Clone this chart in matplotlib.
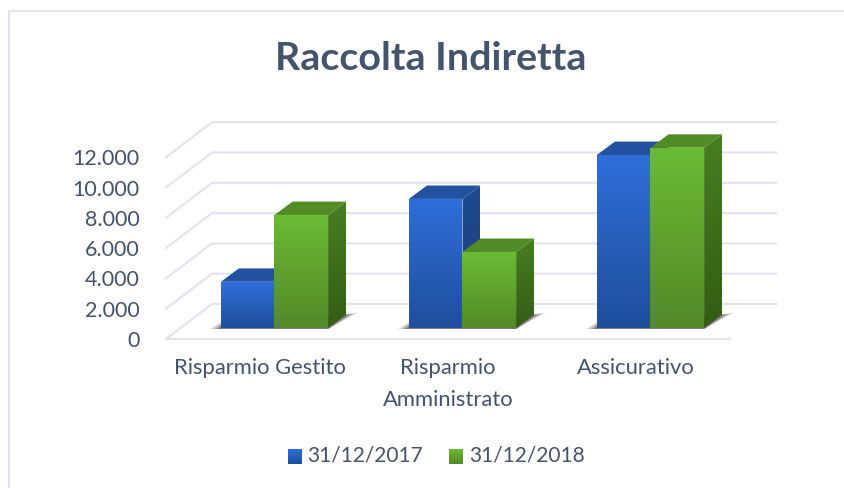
import numpy as np
import matplotlib
matplotlib.use('Agg')
import matplotlib.pyplot as plt
from matplotlib.colors import LinearSegmentedColormap
from matplotlib.patches import Polygon

categories = ['Risparmio Gestito', 'Risparmio\nAmministrato', 'Assicurativo']
values_2017 = [3050, 8520, 11420]
values_2018 = [7460, 5020, 11900]
y_ticks = [0, 2000, 4000, 6000, 8000, 10000, 12000]
y_labels = ['0', '2.000', '4.000', '6.000', '8.000', '10.000', '12.000']
series_names = ['31/12/2017', '31/12/2018']

W, H = 845, 488
TEXT = '#44546A'
GRID = '#E0E3EC'

plt.rcParams['font.family'] = ['Lato', 'DejaVu Sans']

# fill colours: front top/bottom, side top/bottom, roof
blue = ['#2E6FDB', '#1F4E9C', '#1F4A90', '#1A3F7E', '#21519F']
green = ['#6BBB33', '#528A28', '#467F22', '#345C14', '#528C26']

fig = plt.figure(figsize=(W / 100, H / 100), dpi=100)
fig.patch.set_facecolor('white')

left, right, bottom, top = 166, 776, 339, 122
ax = fig.add_axes([left / W, 1 - bottom / H, (right - left) / W, (bottom - top) / H])
px_per_cat = 188
px_per_unit = 30.3 / 2000
ax.set_xlim(-0.5, -0.5 + (right - left) / px_per_cat)
ax.set_ylim(0, (bottom - top) / px_per_unit)
ax.patch.set_visible(False)
for s in ax.spines.values():
    s.set_visible(False)

dx = lambda px: px / px_per_cat
dy = lambda px: px / px_per_unit


def gradient_poly(verts, c_top, c_bottom, z):
    verts = np.array(verts)
    cmap = LinearSegmentedColormap.from_list('g', [c_bottom, c_top])
    ext = [verts[:, 0].min(), verts[:, 0].max(), verts[:, 1].min(), verts[:, 1].max()]
    im = ax.imshow(np.linspace(1, 0, 128).reshape(-1, 1), cmap=cmap, extent=ext,
                   aspect='auto', zorder=z, vmin=0, vmax=1, clip_on=True)
    im.set_clip_path(Polygon(verts, transform=ax.transData))


# walls / grid
wall_x, wall_y = dx(46), dy(35)
x0, x1 = -0.5, 2.5
for t in y_ticks:
    ax.plot([x0, x0 + wall_x, x1 + wall_x], [t, t + wall_y, t + wall_y],
            color=GRID, lw=1.5, zorder=1, clip_on=False)
ax.plot([x0, x1], [0, 0], color=GRID, lw=1.5, zorder=1, clip_on=False)

# bars
off_x, off_y = dx(14.5), dy(11)
bar_w = 53.6 / px_per_cat
depth_x, depth_y = dx(18), dy(13.4)
x = np.arange(len(categories))

z = 5
for i in range(len(categories)):
    xa = x[i] + off_x - bar_w
    xb = x[i] + off_x
    xc = x[i] + off_x + bar_w
    # shadow under the pair of bars
    for grow, alpha in [(1.0, 0.14), (0.75, 0.2), (0.5, 0.26), (0.25, 0.32)]:
        ax.add_patch(Polygon([(xa - dx(11 * grow), off_y - dy(1)), (xc, off_y - dy(1)),
                              (xc + depth_x + dx(12 * grow), off_y + depth_y + dy(2 * grow)),
                              (xc + depth_x, off_y + depth_y), (xa, off_y + dy(6 * grow))],
                             fc='#333333', ec='none', alpha=alpha, zorder=3))
    for val, col, xl, xr in [(values_2017[i], blue, xa, xb), (values_2018[i], green, xb, xc)]:
        yb, yt = off_y, off_y + val
        gradient_poly([(xr, yb), (xr + depth_x, yb + depth_y), (xr + depth_x, yt + depth_y), (xr, yt)],
                      col[2], col[3], z)
        ax.add_patch(Polygon([(xl, yt), (xl + depth_x, yt + depth_y), (xr + depth_x, yt + depth_y), (xr, yt)],
                             fc=col[4], ec='none', zorder=z + 1))
        bar = ax.bar(xl, val, bar_w, bottom=yb, align='edge', color='none', zorder=z + 2)[0]
        gradient_poly([(xl, yb), (xr, yb), (xr, yt), (xl, yt)], col[0], col[1], z + 2)
        z += 3

ax.set_xlim(-0.5, -0.5 + (right - left) / px_per_cat)
ax.set_ylim(0, (bottom - top) / px_per_unit)

ax.set_yticks(y_ticks)
ax.set_yticklabels(y_labels, fontsize=15.5, color=TEXT)
ax.set_xticks(x)
ax.set_xticklabels(categories, fontsize=15.8, color=TEXT, linespacing=1.7)
ax.tick_params(axis='y', length=0, pad=19)
ax.tick_params(axis='x', length=0, pad=14)

fig.text(431 / W, 1 - 59 / H, 'Raccolta Indiretta', fontsize=28.4, fontweight='bold',
         color=TEXT, ha='center', va='center')

# legend
for name, col, sq_x, txt_x in [(series_names[0], blue, 288, 307), (series_names[1], green, 449, 469)]:
    lax = fig.add_axes([sq_x / W, 1 - 464 / H, 14 / W, 15 / H])
    cmap = LinearSegmentedColormap.from_list('l', [col[1], col[0]])
    lax.imshow(np.linspace(1, 0, 32).reshape(-1, 1), cmap=cmap, aspect='auto', vmin=0, vmax=1)
    lax.axis('off')
    fig.text(txt_x / W, 1 - 456 / H, name, fontsize=15, color=TEXT, ha='left', va='center')

# chart frame, no right edge in the reference
fig.add_artist(plt.Line2D([9 / W, 9 / W, 1], [0, 1 - 11 / H, 1 - 11 / H],
                          color=GRID, lw=1.5))

fig.savefig('out.png', dpi=100)
